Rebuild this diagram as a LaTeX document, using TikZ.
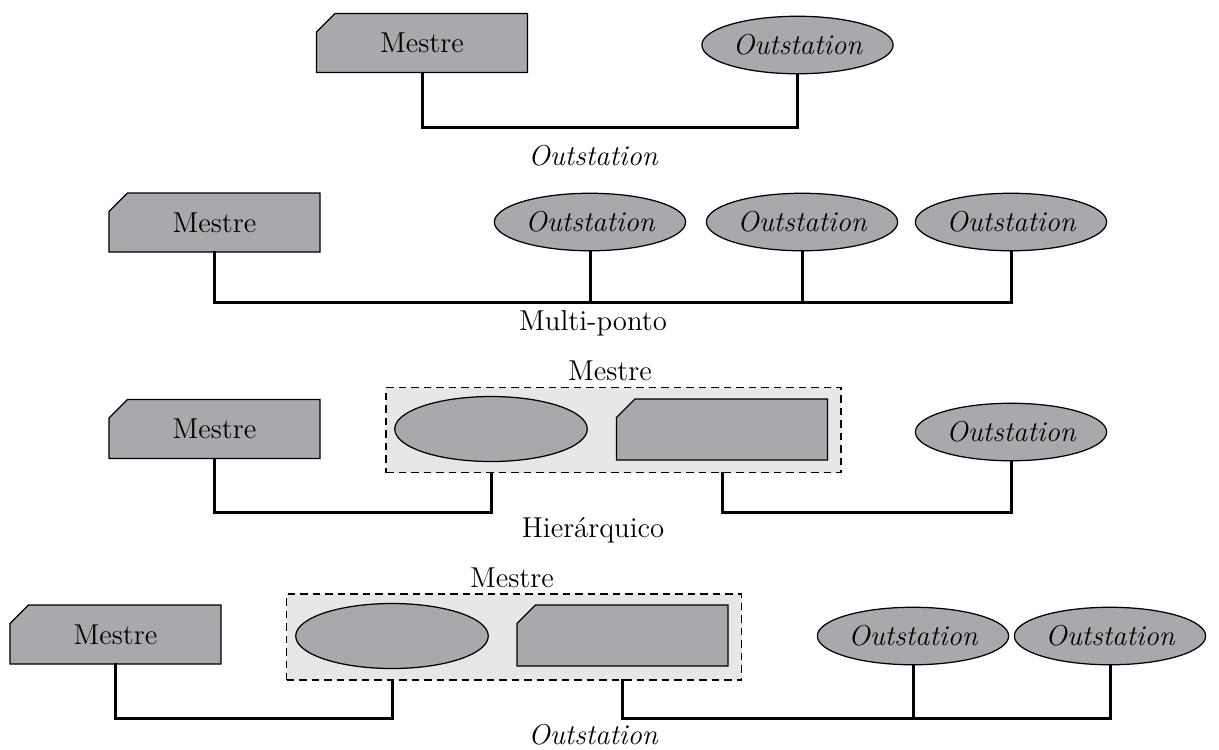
\documentclass[tikz,border=0pt]{standalone}
\usepackage{tikz}
\usetikzlibrary{shapes.geometric, shapes.misc, positioning, calc}
\definecolor{boxgray}{RGB}{168,169,173}
\definecolor{groupgray}{RGB}{230,231,232}

\begin{document}
\begin{tikzpicture}[x=0.4pt, y=-0.4pt,
  font=\fontsize{11.5}{13}\selectfont,
  master/.style={chamfered rectangle, chamfered rectangle corners=north west,
    chamfered rectangle xsep=4.3pt, chamfered rectangle ysep=3.4pt,
    draw, fill=boxgray, line width=0.5pt, inner sep=0pt,
    minimum width=84.4pt, minimum height=23.6pt},
  outst/.style={ellipse, draw, fill=boxgray, line width=0.5pt, inner sep=0pt,
    minimum width=76.5pt, minimum height=23pt, font=\fontsize{11.5}{13}\selectfont\itshape},
  group/.style={draw, dash pattern=on 3pt off 2pt, fill=groupgray, line width=0.5pt,
    inner sep=0pt, minimum width=182pt, minimum height=34pt},
  wire/.style={line width=1.2pt, line cap=rect}]
\useasboundingbox (0,0) rectangle (1219,749);

% ponto a ponto
\node[master] (m1) at (422,43) {Mestre};
\node[outst] (o1) at (797.5,45) {Outstation};
\coordinate (b1) at (0,127);
\draw[wire] (m1.south) -- (m1.south |- b1) -| (o1.south);
\node (t1) at (593,156) {\itshape Outstation};

% multi-ponto
\node[master] (m2) at (214.5,222.5) {Mestre};
\node[outst] (o2a) at (590,222) {Outstation};
\node[outst] (o2b) at (802,222) {Outstation};
\node[outst] (o2c) at (1011,222) {Outstation};
\coordinate (b2) at (0,302);
\draw[wire] (m2.south) -- (m2.south |- b2) -| (o2c.south);
\draw[wire] (o2a.south) -- (o2a.south |- b2);
\draw[wire] (o2b.south) -- (o2b.south |- b2);
\node (t2) at (593,323) {Multi-ponto};

% hierarquico
\node (t3a) at (610,371) {Mestre};
\node[group] (g3) at (613.5,430) {};
\node[outst, minimum width=77pt, minimum height=26pt] (e3) at (491,429) {};
\node[master, minimum height=24.4pt] (r3) at (722,429.5) {\phantom{Mestre}};
\node[master] (m3) at (214.5,429) {Mestre};
\node[outst] (o3) at (1011,432) {Outstation};
\coordinate (b3) at (0,512);
\draw[wire] (m3.south) -- (m3.south |- b3) -| (e3.south |- g3.south);
\draw[wire] (r3.south |- g3.south) -- (r3.south |- b3) -| (o3.south);
\node (t3) at (593,530) {Hier\'arquico};

% hierarquico com varias outstations
\node (t4a) at (512,578) {Mestre};
\node[group, minimum height=34.4pt] (g4) at (514,637) {};
\node[outst, minimum width=77pt, minimum height=26pt] (e4) at (392,636) {};
\node[master, minimum height=24.4pt] (r4) at (622.5,635.5) {\phantom{Mestre}};
\node[master] (m4) at (115.5,634.5) {Mestre};
\node[outst] (o4a) at (913,636) {Outstation};
\node[outst] (o4b) at (1110,636) {Outstation};
\coordinate (b4) at (0,718);
\draw[wire] (m4.south) -- (m4.south |- b4) -| (e4.south |- g4.south);
\draw[wire] (r4.south |- g4.south) -- (r4.south |- b4) -| (o4b.south);
\draw[wire] (o4a.south) -- (o4a.south |- b4);
\node (t4) at (593,735) {\itshape Outstation};
\end{tikzpicture}
\end{document}
